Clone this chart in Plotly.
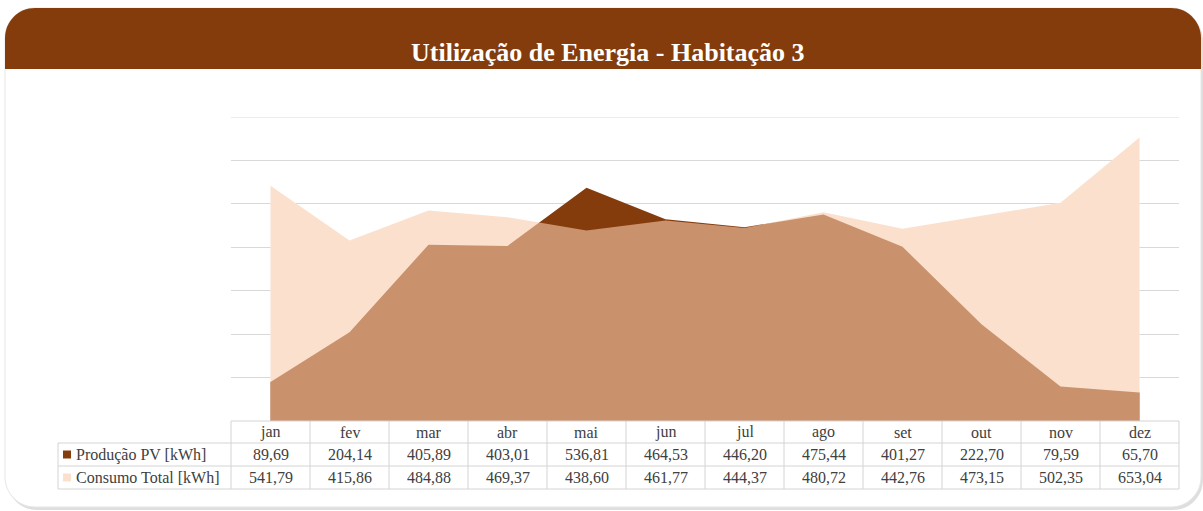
import plotly.graph_objects as go

W, H = 1203, 511

# Monthly energy data (kWh)
meses = ["jan", "fev", "mar", "abr", "mai", "jun", "jul", "ago", "set", "out", "nov", "dez"]
producao_pv = [89.69, 204.14, 405.89, 403.01, 536.81, 464.53, 446.20, 475.44, 401.27, 222.70, 79.59, 65.70]
consumo_total = [541.79, 415.86, 484.88, 469.37, 438.60, 461.77, 444.37, 480.72, 442.76, 473.15, 502.35, 653.04]
series_nomes = ["Produção PV [kWh]", "Consumo Total [kWh]"]
titulo = "Utilização de Energia - Habitação 3"

COR_PV = "#843C0C"
COR_CONSUMO = "rgba(248,203,173,0.6)"
COR_CONSUMO_CHAVE = "#FBE0CE"
COR_GRADE = "#D9D9D9"
COR_TABELA = "#D4D4D4"
COR_TEXTO = "#404040"
FONTE = "Liberation Serif"

# plot area in pixels
PX0, PX1 = 231, 1179
PY_TOP, PY_BOT = 117, 421
Y_MAX = 700
ROW_EDGES = [421, 443, 466, 489]
LABEL_X0 = 58


def px(x):
    return x / W


def py(y):
    return 1 - y / H


def rounded_path(x0, y0, x1, y1, r, top=True, bottom=True):
    """Rounded rectangle path in paper coordinates, given pixel edges."""
    k = 0.5523 * r

    def P(x, y):
        return f"{px(x):.5f},{py(y):.5f}"

    s = f"M {P(x0 + (r if top else 0), y0)} "
    if top:
        s += f"L {P(x1 - r, y0)} C {P(x1 - r + k, y0)} {P(x1, y0 + r - k)} {P(x1, y0 + r)} "
    else:
        s += f"L {P(x1, y0)} "
    if bottom:
        s += f"L {P(x1, y1 - r)} C {P(x1, y1 - r + k)} {P(x1 - r + k, y1)} {P(x1 - r, y1)} "
        s += f"L {P(x0 + r, y1)} C {P(x0 + r - k, y1)} {P(x0, y1 - r + k)} {P(x0, y1 - r)} "
    else:
        s += f"L {P(x1, y1)} L {P(x0, y1)} "
    if top:
        s += f"L {P(x0, y0 + r)} C {P(x0, y0 + r - k)} {P(x0 + r - k, y0)} {P(x0 + r, y0)} Z"
    else:
        s += "Z"
    return s


fig = go.Figure()

# white under-layer keeps gridlines hidden beneath the translucent consumption area
fig.add_trace(go.Scatter(x=meses, y=consumo_total, mode="lines", fill="tozeroy",
                         fillcolor="white", line=dict(width=0, color="white"),
                         hoverinfo="skip", showlegend=False))
fig.add_trace(go.Scatter(x=meses, y=producao_pv, mode="lines", fill="tozeroy",
                         fillcolor=COR_PV, line=dict(width=0, color=COR_PV),
                         name=series_nomes[0], showlegend=False))
fig.add_trace(go.Scatter(x=meses, y=consumo_total, mode="lines", fill="tozeroy",
                         fillcolor=COR_CONSUMO, line=dict(width=0, color=COR_CONSUMO),
                         name=series_nomes[1], showlegend=False))

shapes = []
# card shadow, card and header band
shapes.append(dict(type="path", xref="paper", yref="paper", layer="below",
                   path=rounded_path(7, 11, 1203, 510, 30),
                   fillcolor="rgba(0,0,0,0.13)", line=dict(width=0)))
shapes.append(dict(type="path", xref="paper", yref="paper", layer="below",
                   path=rounded_path(5, 8, 1201, 507, 30),
                   fillcolor="white", line=dict(width=1, color="#E6E6E6")))
shapes.append(dict(type="path", xref="paper", yref="paper", layer="below",
                   path=rounded_path(5, 8, 1201, 69, 30, top=True, bottom=False),
                   fillcolor=COR_PV, line=dict(width=0)))

# top gridline of the value axis
shapes.append(dict(type="line", xref="paper", yref="y", layer="below",
                   x0=px(PX0), x1=px(PX1), y0=Y_MAX, y1=Y_MAX,
                   line=dict(width=1, color=COR_GRADE)))

# data table grid
line_style = dict(width=1, color=COR_TABELA)
for i, y in enumerate(ROW_EDGES):
    x0 = PX0 if i == 0 else LABEL_X0
    shapes.append(dict(type="line", xref="paper", yref="paper", layer="above",
                       x0=px(x0), x1=px(PX1), y0=py(y), y1=py(y), line=line_style))
col_w = (PX1 - PX0) / len(meses)
for j in range(len(meses) + 1):
    x = PX0 + j * col_w
    shapes.append(dict(type="line", xref="paper", yref="paper", layer="above",
                       x0=px(x), x1=px(x), y0=py(ROW_EDGES[0]), y1=py(ROW_EDGES[-1]),
                       line=line_style))
shapes.append(dict(type="line", xref="paper", yref="paper", layer="above",
                   x0=px(LABEL_X0), x1=px(LABEL_X0), y0=py(ROW_EDGES[1]), y1=py(ROW_EDGES[-1]),
                   line=line_style))

# legend keys in the table
for i, cor in enumerate([COR_PV, COR_CONSUMO_CHAVE]):
    yc = (ROW_EDGES[i + 1] + ROW_EDGES[i + 2]) / 2
    shapes.append(dict(type="rect", xref="paper", yref="paper", layer="above",
                       x0=px(63), x1=px(71), y0=py(yc - 4), y1=py(yc + 4),
                       fillcolor=cor, line=dict(width=0)))

annotations = []
annotations.append(dict(text=f"<b>{titulo}</b>", xref="paper", yref="paper",
                        x=px(608), y=py(52), xanchor="center", yanchor="middle",
                        showarrow=False,
                        font=dict(family=FONTE, size=26, color="white")))


def fmt(v):
    return f"{v:.2f}".replace(".", ",")


row_mid = [(ROW_EDGES[i] + ROW_EDGES[i + 1]) / 2 for i in range(3)]
font_tab = dict(family=FONTE, size=16, color=COR_TEXTO)
for k, m in enumerate(meses):
    for r, txt in enumerate([m, fmt(producao_pv[k]), fmt(consumo_total[k])]):
        annotations.append(dict(text=txt, x=m, xref="x", y=py(row_mid[r]), yref="paper",
                                xanchor="center", yanchor="middle",
                                showarrow=False, font=font_tab))
for i, nome in enumerate(series_nomes):
    annotations.append(dict(text=nome, xref="paper", yref="paper", x=px(74),
                            y=py(row_mid[i + 1]), xanchor="left", yanchor="middle",
                            showarrow=False, font=font_tab))

fig.update_layout(
    width=W, height=H,
    margin=dict(l=0, r=0, t=0, b=0),
    paper_bgcolor="white",
    plot_bgcolor="rgba(0,0,0,0)",
    shapes=shapes,
    annotations=annotations,
    xaxis=dict(domain=[px(PX0), px(PX1)], range=[-0.5, 11.5], type="category",
               showticklabels=False, showgrid=False, zeroline=False, fixedrange=True),
    yaxis=dict(domain=[py(PY_BOT), py(PY_TOP)], range=[0, Y_MAX], dtick=100,
               showticklabels=False, showgrid=True, gridcolor=COR_GRADE, gridwidth=1,
               zeroline=False, fixedrange=True),
    showlegend=False,
)

fig.write_html("out.html")
